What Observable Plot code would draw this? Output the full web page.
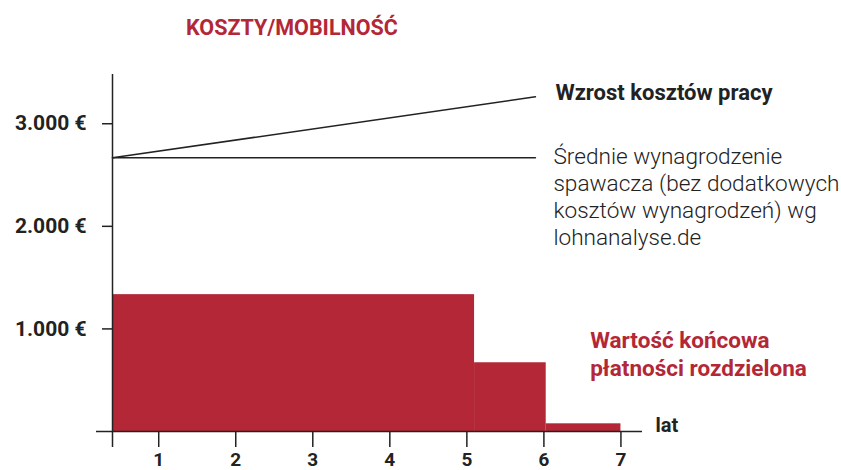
<!DOCTYPE html>
<html><head><meta charset="utf-8">
<script src="https://cdn.jsdelivr.net/npm/d3@7"></script>
<script src="https://cdn.jsdelivr.net/npm/@observablehq/plot@0.6"></script>
<style>
body{margin:0;background:#fff;font-family:Roboto,sans-serif;}
#title{height:50px;box-sizing:border-box;padding-top:16px;line-height:24px;padding-left:186px;font-size:21.5px;font-weight:700;color:#b32737;}
</style></head>
<body>
<div id="title">KOSZTY/MOBILNOŚĆ</div>
<div id="chart"></div>
<script>
// data
const yearTicks = [1, 2, 3, 4, 5, 6, 7];
const valueTicks = [1000, 2000, 3000];
const barStart = [0.4, 5.1, 6.03];
const barEnd = [5.1, 6.03, 7.0];
const barValue = [1334, 670, 75];
const lineYears = [0.4, 5.89];
const wageAvg = [2668, 2668];
const laborCostGrowth = [2668, 3262];
const labelGrowth = "Wzrost kosztów pracy";
const labelWage = "Średnie wynagrodzenie\nspawacza (bez dodatkowych\nkosztów wynagrodzeń) wg\nlohnanalyse.de";
const labelFinal = "Wartość końcowa\npłatności rozdzielona";
const labelX = "lat";

const RED = "#b32737", INK = "#222";
const bars = barValue.map((v, i) => ({x1: barStart[i], x2: barEnd[i], y: v}));
const avg = lineYears.map((x, i) => ({x, y: wageAvg[i]}));
const growth = lineYears.map((x, i) => ({x, y: laborCostGrowth[i]}));
const xMin = barStart[0];

const chart = Plot.plot({
  width: 841, height: 420,
  marginLeft: 112, marginRight: 199, marginTop: 24, marginBottom: 39,
  style: {fontFamily: "Roboto, sans-serif", color: INK, background: "#fff"},
  x: {domain: [xMin, 7.28]},
  y: {domain: [0, 3480]},
  marks: [
    Plot.rectY(bars, {x1: "x1", x2: "x2", y: "y", fill: RED}),
    Plot.line(avg, {x: "x", y: "y", stroke: INK, strokeWidth: 1.5}),
    Plot.line(growth, {x: "x", y: "y", stroke: INK, strokeWidth: 1.5}),
    Plot.ruleY([0], {stroke: INK, strokeWidth: 1.5, insetLeft: -16}),
    Plot.ruleX([xMin], {stroke: INK, strokeWidth: 1.5, insetBottom: -16}),
    Plot.axisX({ticks: yearTicks, tickSize: 16, tickPadding: 5, fontSize: 19, fontWeight: 700, label: null, stroke: INK, strokeWidth: 1.5, tickFormat: d => String(d)}),
    Plot.axisY({ticks: valueTicks, tickSize: 10, tickPadding: 16, fontSize: 21, fontWeight: 700, label: null, stroke: INK, strokeWidth: 1.5, tickFormat: d => d3.format(",")(d).replace(/,/g, ".") + " €"}),
    Plot.text([growth[1]], {x: "x", y: "y", text: () => labelGrowth, textAnchor: "start", dx: 20, dy: -4, fontSize: 22, fontWeight: 700, fill: INK}),
    Plot.text([avg[1]], {x: "x", y: "y", text: () => labelWage, textAnchor: "start", lineAnchor: "top", lineHeight: 1.2, dx: 18, dy: -13, fontSize: 22.6, fontWeight: 300, fill: INK}),
    Plot.text([bars[1]], {x: "x2", y: "y", text: () => labelFinal, textAnchor: "start", lineAnchor: "bottom", lineHeight: 1.25, dx: 44, dy: 13, fontSize: 22.5, fontWeight: 700, fill: RED}),
    Plot.text([labelX], {frameAnchor: "bottom-right", text: d => d, textAnchor: "start", dx: 13, fontSize: 20, fontWeight: 700, fill: INK})
  ]
});
document.getElementById("chart").appendChild(chart);
</script>
</body></html>
